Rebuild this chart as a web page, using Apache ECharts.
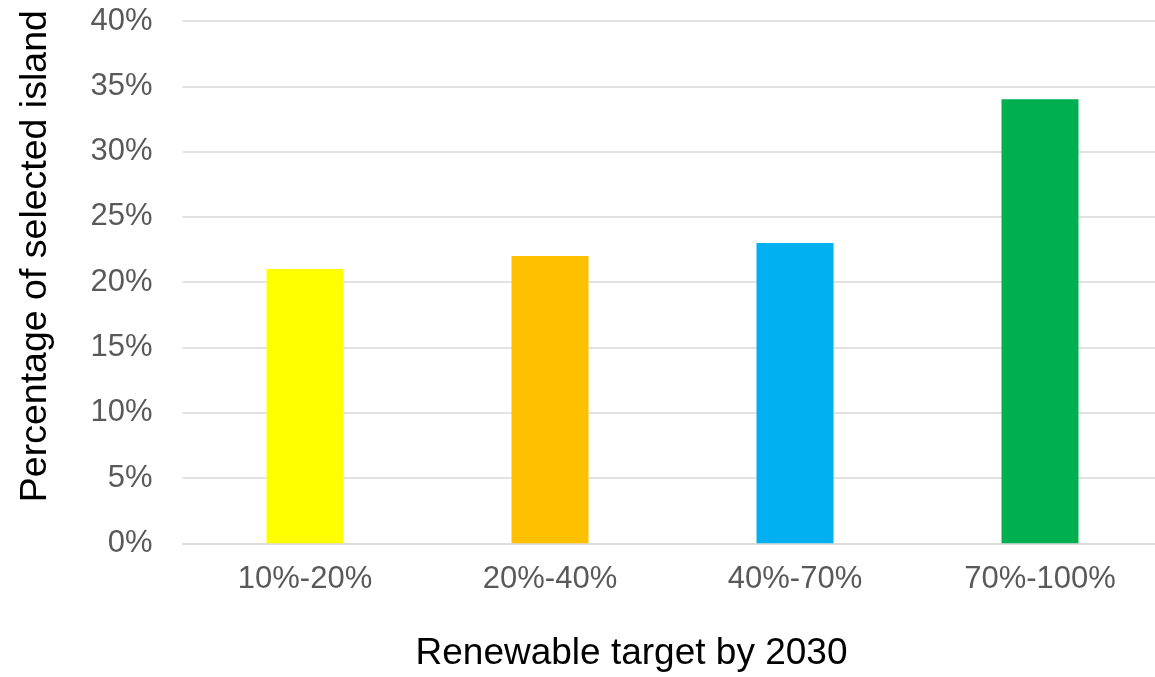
<!DOCTYPE html>
<html>
<head>
<meta charset="utf-8">
<title>Renewable target by 2030</title>
<script src="https://cdn.jsdelivr.net/npm/echarts@6/dist/echarts.min.js"></script>
<style>
  html, body { margin: 0; padding: 0; background: #fff; }
  #chart { width: 1155px; height: 677px; }
</style>
</head>
<body>
<div id="chart"></div>
<script>
// categories and values (percent)
const targetRanges = ['10%-20%', '20%-40%', '40%-70%', '70%-100%'];
const islandShares = [21, 22, 23, 34];
const barColors = ['#FFFF00', '#FFC000', '#00B0F0', '#00B050'];

const font = 'Arial, "Liberation Sans", Helvetica, sans-serif';

const chart = echarts.init(document.getElementById('chart'), null, { renderer: 'canvas' });

chart.setOption({
  backgroundColor: '#fff',
  animation: false,
  grid: {
    left: 182.5,
    right: -7.5,
    top: 21,
    bottom: 133.7,
    containLabel: false,
    outerBoundsMode: 'none',
  },
  xAxis: {
    type: 'category',
    data: targetRanges,
    name: 'Renewable target by 2030',
    nameLocation: 'middle',
    nameGap: 92,
    nameTextStyle: {
      fontFamily: font,
      fontSize: 37,
      color: '#000',
      padding: [0, 82, 0, 0],
    },
    axisLine: { show: true, lineStyle: { color: '#d9d9d9', width: 1.5 } },
    axisTick: { show: false },
    axisLabel: {
      fontFamily: font,
      fontSize: 31,
      color: '#595959',
      margin: 21,
    },
  },
  yAxis: {
    type: 'value',
    min: 0,
    max: 40,
    interval: 5,
    name: 'Percentage of selected island',
    nameLocation: 'middle',
    nameGap: 128,
    nameTextStyle: {
      fontFamily: font,
      fontSize: 37.5,
      color: '#000',
      padding: [0, 0, 0, 52],
    },
    axisLine: { show: false },
    axisTick: { show: false },
    axisLabel: {
      fontFamily: font,
      fontSize: 31,
      color: '#595959',
      margin: 30,
      formatter: '{value}%',
    },
    splitLine: { show: true, lineStyle: { color: '#d9d9d9', width: 1.5 } },
  },
  series: [
    {
      type: 'bar',
      barWidth: 77,
      data: islandShares.map((v, i) => ({
        value: v,
        itemStyle: { color: barColors[i] },
      })),
    },
  ],
});
</script>
</body>
</html>
